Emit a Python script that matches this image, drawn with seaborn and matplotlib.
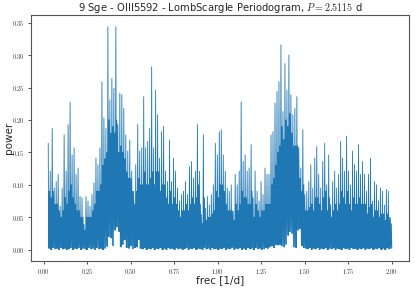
import numpy as np
import pandas as pd
import matplotlib
matplotlib.use("Agg")
import matplotlib.pyplot as plt
from matplotlib.ticker import FuncFormatter, MultipleLocator
import seaborn as sns

# Upper envelope (spike tops) of the periodogram (uniform frequency grid)
peak = [
    # 0.025 - 0.33
    0.164, 0.121, 0.187, 0.095, 0.105, 0.116, 0.067, 0.095, 0.177, 0.121,
    0.193, 0.227, 0.146, 0.157, 0.116, 0.126, 0.082, 0.080, 0.039, 0.082,
    0.075, 0.067, 0.085, 0.103, 0.141, 0.131, 0.157, 0.259,
    # 0.34 - 0.67
    0.203, 0.187, 0.344, 0.231, 0.264, 0.249, 0.344, 0.193, 0.241, 0.239,
    0.218, 0.177, 0.152, 0.169, 0.121, 0.090, 0.131, 0.193, 0.152, 0.157,
    0.236, 0.157, 0.167, 0.187, 0.282, 0.157, 0.246, 0.208, 0.141, 0.182,
    # 0.68 - 1.01
    0.190, 0.121, 0.105, 0.169, 0.105, 0.141, 0.121, 0.095, 0.075, 0.085,
    0.090, 0.105, 0.085, 0.128, 0.136, 0.110, 0.121, 0.193, 0.121, 0.054,
    0.177, 0.064, 0.082, 0.069, 0.085, 0.100, 0.164, 0.146, 0.182, 0.185,
    # 1.03 - 1.36
    0.146, 0.121, 0.095, 0.090, 0.100, 0.059, 0.116, 0.100, 0.121, 0.228,
    0.136, 0.146, 0.121, 0.126, 0.162, 0.080, 0.121, 0.090, 0.075, 0.105,
    0.085, 0.126, 0.116, 0.116, 0.177, 0.182, 0.226, 0.244, 0.259, 0.316,
    # 1.37 - 1.70
    0.213, 0.287, 0.246, 0.300, 0.239, 0.208, 0.218, 0.236, 0.157, 0.126,
    0.185, 0.085, 0.090, 0.105, 0.131, 0.095, 0.141, 0.159, 0.116, 0.095,
    0.136, 0.164, 0.100, 0.146, 0.069, 0.105, 0.121, 0.095, 0.116, 0.167,
    # 1.71 - 2.00
    0.141, 0.121, 0.175, 0.121, 0.100, 0.152, 0.131, 0.121, 0.162, 0.116,
    0.136, 0.116, 0.090, 0.116, 0.141, 0.075, 0.105, 0.100, 0.075, 0.095,
    0.090, 0.069, 0.093, 0.090, 0.049,
]

# Level of the dense (solid-looking) band under the spikes
body = [
    0.09, 0.08, 0.09, 0.07, 0.07, 0.06, 0.05, 0.06, 0.08, 0.07,
    0.09, 0.10, 0.08, 0.07, 0.06, 0.06, 0.05, 0.05, 0.03, 0.05,
    0.05, 0.05, 0.06, 0.07, 0.09, 0.09, 0.10, 0.13,
    0.14, 0.15, 0.20, 0.18, 0.19, 0.18, 0.20, 0.15, 0.16, 0.15,
    0.14, 0.12, 0.11, 0.11, 0.09, 0.07, 0.09, 0.11, 0.10, 0.10,
    0.12, 0.10, 0.10, 0.11, 0.12, 0.10, 0.12, 0.12, 0.09, 0.10,
    0.10, 0.08, 0.07, 0.09, 0.07, 0.08, 0.07, 0.06, 0.05, 0.06,
    0.06, 0.07, 0.06, 0.07, 0.08, 0.07, 0.08, 0.10, 0.07, 0.04,
    0.08, 0.045, 0.05, 0.05, 0.055, 0.06, 0.09, 0.08, 0.10, 0.10,
    0.09, 0.07, 0.06, 0.06, 0.06, 0.045, 0.07, 0.06, 0.07, 0.09,
    0.08, 0.08, 0.07, 0.07, 0.09, 0.05, 0.07, 0.06, 0.05, 0.06,
    0.06, 0.07, 0.07, 0.07, 0.10, 0.11, 0.13, 0.15, 0.16, 0.19,
    0.17, 0.20, 0.19, 0.21, 0.18, 0.16, 0.16, 0.16, 0.11, 0.09,
    0.10, 0.06, 0.06, 0.065, 0.07, 0.06, 0.08, 0.08, 0.07, 0.06,
    0.08, 0.09, 0.06, 0.08, 0.05, 0.06, 0.07, 0.06, 0.07, 0.09,
    0.08, 0.07, 0.09, 0.07, 0.06, 0.08, 0.07, 0.07, 0.08, 0.07,
    0.07, 0.07, 0.055, 0.065, 0.07, 0.05, 0.06, 0.06, 0.05, 0.055,
    0.055, 0.045, 0.055, 0.05, 0.04,
]

# Lower envelope (minima between the peaks)
trough = [
    0.002, 0.000, 0.003, 0.001, 0.002, 0.000, 0.003, 0.001, 0.002, 0.000,
    0.001, 0.003, 0.000, 0.002, 0.001, 0.003, 0.000, 0.002, 0.001, 0.000,
    0.003, 0.001, 0.002, 0.000, 0.003, 0.001, 0.002, 0.000,
    0.002, 0.005, 0.020, 0.018, 0.006, 0.030, 0.035, 0.028, 0.004, 0.008,
    0.015, 0.003, 0.002, 0.006, 0.001, 0.003, 0.004, 0.015, 0.002, 0.001,
    0.003, 0.000, 0.002, 0.001, 0.003, 0.000, 0.002, 0.001, 0.003, 0.000,
    0.002, 0.000, 0.003, 0.001, 0.002, 0.000, 0.003, 0.001, 0.002, 0.000,
    0.001, 0.003, 0.000, 0.002, 0.001, 0.003, 0.000, 0.002, 0.001, 0.000,
    0.003, 0.001, 0.002, 0.000, 0.003, 0.001, 0.002, 0.000, 0.002, 0.001,
    0.003, 0.000, 0.002, 0.001, 0.003, 0.000, 0.002, 0.001, 0.003, 0.000,
    0.002, 0.000, 0.003, 0.001, 0.002, 0.000, 0.003, 0.001, 0.002, 0.000,
    0.001, 0.003, 0.002, 0.004, 0.006, 0.003, 0.008, 0.007, 0.008, 0.006,
    0.004, 0.008, 0.022, 0.028, 0.025, 0.004, 0.003, 0.030, 0.032, 0.006,
    0.003, 0.002, 0.001, 0.003, 0.000, 0.002, 0.001, 0.003, 0.000, 0.002,
    0.001, 0.003, 0.000, 0.002, 0.001, 0.003, 0.000, 0.002, 0.001, 0.000,
    0.003, 0.001, 0.002, 0.000, 0.003, 0.001, 0.002, 0.000, 0.002, 0.001,
    0.003, 0.000, 0.002, 0.001, 0.003, 0.000, 0.002, 0.001, 0.003, 0.000,
    0.002, 0.000, 0.003, 0.001, 0.002,
]

f_min, f_max = 0.025, 2.0
period_str = "2.5115"
title_text = "9 Sge - OIII5592 - LombScargle Periodogram, $P = " + period_str + "$ d"
xlabel_text = "frec [1/d]"
ylabel_text = "power"

# sequence per grid cell: spike top, minimum, band level, minimum
n = len(peak)
power = np.empty(4 * n)
power[0::4] = peak
power[1::4] = trough[:n]
power[2::4] = body[:n]
power[3::4] = trough[:n]
freq = np.linspace(f_min, f_max, 4 * n)
df = pd.DataFrame({"frec": freq, "power": power})

sns.set_style("ticks")
plt.rcParams["mathtext.fontset"] = "cm"
plt.rcParams["font.family"] = ["DejaVu Sans"]

fig = plt.figure(figsize=(4.15, 2.88), dpi=100)
ax = fig.add_axes([0.0747, 0.094, 0.911, 0.854])
sns.lineplot(data=df, x="frec", y="power", ax=ax, color="#1f77b4",
             linewidth=0.6, estimator=None, sort=False)
ax.set_xlim(-0.074, 2.099)
ax.set_ylim(-0.0175, 0.362)

ax.xaxis.set_major_locator(MultipleLocator(0.25))
ax.yaxis.set_major_locator(MultipleLocator(0.05))
fmt = FuncFormatter(lambda v, p: "$%.2f$" % v)
ax.xaxis.set_major_formatter(fmt)
ax.yaxis.set_major_formatter(fmt)
ax.tick_params(axis="both", labelsize=4.5, length=2.5, width=0.6, pad=2, colors="#333333")
for s in ax.spines.values():
    s.set_linewidth(0.8)
    s.set_color("#555555")

ax.set_title(title_text, fontsize=7.2, pad=3)
ax.set_xlabel(xlabel_text, fontsize=7.5)
ax.set_ylabel(ylabel_text, fontsize=7.5)
ax.yaxis.set_label_coords(-0.045, 0.5)
ax.xaxis.set_label_coords(0.5, -0.058)

fig.savefig("out.png", dpi=100)
